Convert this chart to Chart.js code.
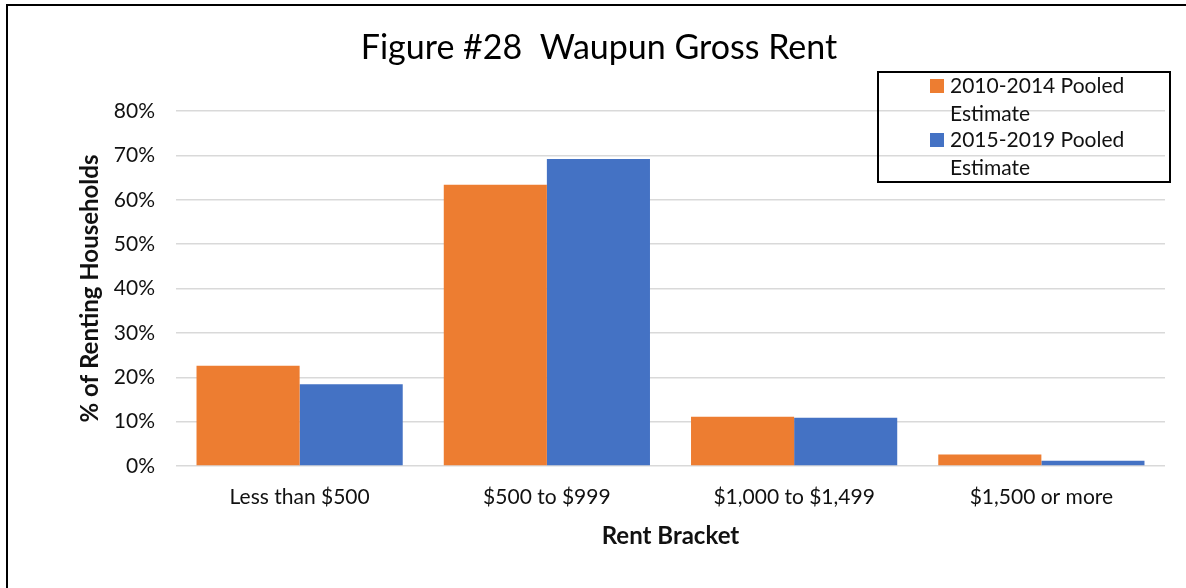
<!DOCTYPE html>
<html>
<head>
<meta charset="utf-8">
<script src="https://cdn.jsdelivr.net/npm/chart.js@4.4.1/dist/chart.umd.min.js"></script>
<style>
  html, body { margin: 0; padding: 0; background: #fff; }
  #wrap { width: 1186px; height: 588px; }
</style>
</head>
<body>
<div id="wrap"><canvas id="myChart"></canvas></div>
<script>
var categories = ['Less than $500', '$500 to $999', '$1,000 to $1,499', '$1,500 or more'];
var seriesNames = ['2010-2014 Pooled Estimate', '2015-2019 Pooled Estimate'];
var values2010 = [22.6, 63.4, 11.1, 2.6];
var values2015 = [18.4, 69.2, 10.9, 1.2];
var yTicks = [0, 10, 20, 30, 40, 50, 60, 70, 80];
var chartTitle = 'Figure #28  Waupun Gross Rent';

var fontName = 'Lato, "Open Sans", sans-serif';

// page frame (only top and left edge show) + title centred on the page
var framePlugin = {
    id: 'frame',
    afterDraw: function (chart) {
        var ctx = chart.ctx;
        ctx.save();
        ctx.strokeStyle = '#000';
        ctx.lineWidth = 2;
        ctx.beginPath();
        ctx.moveTo(7, 588);
        ctx.lineTo(7, 5);
        ctx.lineTo(1186, 5);
        ctx.stroke();
        ctx.font = '34px ' + fontName;
        ctx.fillStyle = '#000';
        ctx.textAlign = 'center';
        ctx.textBaseline = 'middle';
        ctx.fillText(chartTitle, 599, 48);
        ctx.restore();
    }
};

// boxed legend with wrapped labels, drawn by hand
var boxLegend = {
    id: 'boxLegend',
    afterDraw: function (chart) {
        var ctx = chart.ctx;
        ctx.save();
        ctx.strokeStyle = '#000';
        ctx.lineWidth = 2;
        ctx.strokeRect(878, 72, 292, 110);
        ctx.font = '21px ' + fontName;
        ctx.textBaseline = 'middle';
        chart.data.datasets.forEach(function (ds, i) {
            var y = 86 + i * 54;
            ctx.fillStyle = ds.backgroundColor;
            ctx.fillRect(930, y - 7, 14, 14);
            ctx.fillStyle = '#111';
            var words = ds.label.split(' ');
            ctx.fillText(words.slice(0, 2).join(' '), 950, y);
            ctx.fillText(words.slice(2).join(' '), 950, y + 28);
        });
        ctx.restore();
    }
};

var ctx = document.getElementById('myChart');
new Chart(ctx, {
    type: 'bar',
    data: {
        labels: categories,
        datasets: [
            {
                label: seriesNames[0],
                backgroundColor: '#ED7D31',
                data: values2010
            },
            {
                label: seriesNames[1],
                backgroundColor: '#4472C4',
                data: values2015
            }
        ]
    },
    options: {
        responsive: true,
        maintainAspectRatio: false,
        animation: false,
        datasets: {
            bar: {
                categoryPercentage: 0.834,
                barPercentage: 1.0
            }
        },
        layout: {
            padding: { left: 72, right: 21, top: 111, bottom: 33 }
        },
        plugins: {
            legend: { display: false },
            tooltip: { enabled: false },
            title: { display: false }
        },
        scales: {
            x: {
                grid: { display: false, drawTicks: false },
                border: { display: false },
                ticks: {
                    color: '#111',
                    padding: 19,
                    font: { family: fontName, size: 21 }
                },
                title: {
                    display: true,
                    text: 'Rent Bracket',
                    color: '#111',
                    font: { family: fontName, size: 24, weight: 'bold' },
                    padding: { top: 4, bottom: 4 }
                },
                afterFit: function (scale) {
                    scale.height = 89;
                }
            },
            y: {
                min: 0,
                max: 80,
                afterBuildTicks: function (scale) {
                    scale.ticks = yTicks.map(function (v) { return { value: v }; });
                },
                grid: {
                    color: '#D9D9D9',
                    lineWidth: 1.5,
                    drawTicks: false
                },
                border: { display: false },
                ticks: {
                    color: '#111',
                    padding: 21,
                    font: { family: fontName, size: 21 },
                    callback: function (value) {
                        return value + '%';
                    }
                },
                title: {
                    display: true,
                    text: '% of Renting Households',
                    color: '#111',
                    font: { family: fontName, size: 24, weight: 'bold' },
                    padding: { top: 4, bottom: 4 }
                },
                afterFit: function (scale) {
                    scale.width = 104;
                }
            }
        }
    },
    plugins: [framePlugin, boxLegend]
});
</script>
</body>
</html>
